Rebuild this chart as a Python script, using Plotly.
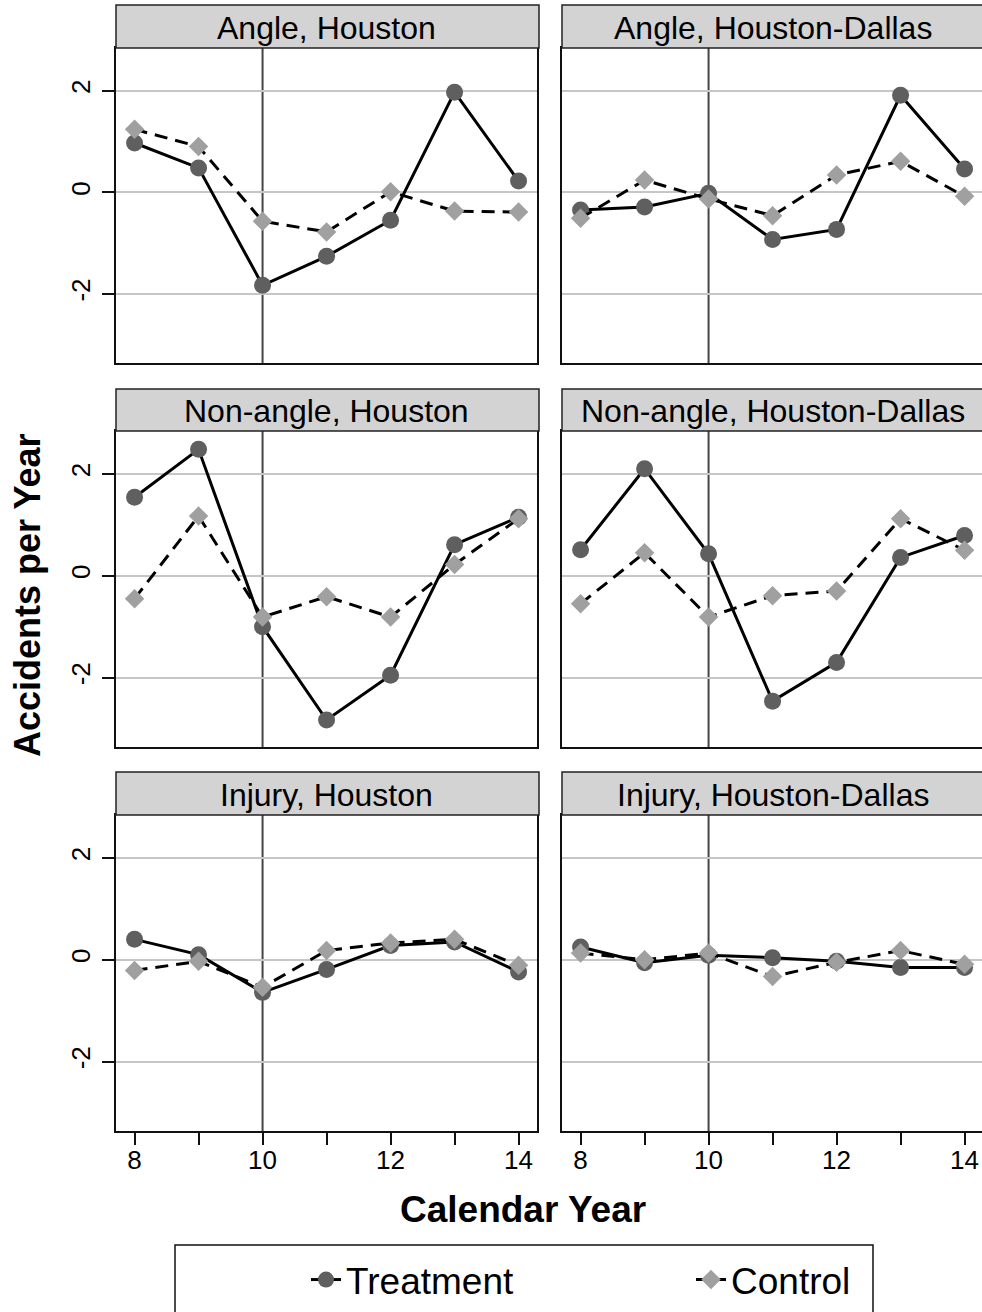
import plotly.graph_objects as go

# ---------------- data ----------------
years = [8, 9, 10, 11, 12, 13, 14]
policy_year = 10
panel_titles = ["Angle, Houston", "Angle, Houston-Dallas",
                "Non-angle, Houston", "Non-angle, Houston-Dallas",
                "Injury, Houston", "Injury, Houston-Dallas"]
series_names = ["Treatment", "Control"]
y_tick_vals = [-2, 0, 2]
x_tick_vals = [8, 10, 12, 14]

angle_hou_treat = [0.97, 0.48, -1.83, -1.26, -0.55, 1.97, 0.22]
angle_hou_ctrl = [1.24, 0.90, -0.57, -0.78, 0.01, -0.37, -0.39]
angle_hd_treat = [-0.35, -0.29, -0.02, -0.93, -0.73, 1.91, 0.46]
angle_hd_ctrl = [-0.51, 0.24, -0.13, -0.46, 0.34, 0.61, -0.08]
nonangle_hou_treat = [1.54, 2.48, -1.00, -2.83, -1.95, 0.61, 1.15]
nonangle_hou_ctrl = [-0.45, 1.17, -0.81, -0.41, -0.81, 0.22, 1.12]
nonangle_hd_treat = [0.51, 2.10, 0.43, -2.46, -1.70, 0.36, 0.79]
nonangle_hd_ctrl = [-0.55, 0.45, -0.81, -0.39, -0.30, 1.12, 0.50]
injury_hou_treat = [0.40, 0.10, -0.64, -0.19, 0.28, 0.35, -0.24]
injury_hou_ctrl = [-0.21, -0.03, -0.54, 0.18, 0.33, 0.40, -0.11]
injury_hd_treat = [0.25, -0.06, 0.09, 0.04, -0.03, -0.15, -0.15]
injury_hd_ctrl = [0.13, 0.00, 0.13, -0.33, -0.05, 0.18, -0.09]

treat_series = [angle_hou_treat, angle_hd_treat, nonangle_hou_treat,
                nonangle_hd_treat, injury_hou_treat, injury_hd_treat]
ctrl_series = [angle_hou_ctrl, angle_hd_ctrl, nonangle_hou_ctrl,
               nonangle_hd_ctrl, injury_hou_ctrl, injury_hd_ctrl]

# ---------------- layout geometry (pixels) ----------------
W, H = 982, 1312
FONT = "Liberation Sans, Arial, Helvetica, sans-serif"
col_px = [(116, 537), (562, 982)]
row_plot_px = [(48, 363), (431, 747), (815, 1131)]
row_head_px = [(5, 48), (389, 431), (772, 815)]
y_range = [-3.36, 2.84]
px_per_year = 64.0


def fx(px):
    return px / W


def fy(py):
    return 1 - py / H


fig = go.Figure()
shapes = []
annotations = []

for i in range(6):
    r, c = divmod(i, 2)
    ax = "" if i == 0 else str(i + 1)
    x0p, x1p = col_px[c]
    yt, yb = row_plot_px[r]
    x_lo = 7.71
    x_hi = x_lo + (x1p - x0p) / px_per_year

    fig.add_trace(go.Scatter(
        x=years, y=treat_series[i], mode="lines+markers",
        name=series_names[0], legendgroup="t", showlegend=(i == 0),
        legend="legend",
        line=dict(color="black", width=3),
        marker=dict(symbol="circle", size=17, color="#5f5f5f", line=dict(width=0)),
        xaxis="x" + ax, yaxis="y" + ax))
    fig.add_trace(go.Scatter(
        x=years, y=ctrl_series[i], mode="lines+markers",
        name=series_names[1], legendgroup="c", showlegend=(i == 0),
        legend="legend2",
        line=dict(color="black", width=3, dash="13px,8px"),
        marker=dict(symbol="diamond", size=15, color="#a0a0a0", line=dict(width=0)),
        xaxis="x" + ax, yaxis="y" + ax))

    bottom = (r == 2)
    xa = dict(domain=[fx(x0p), fx(x1p)], range=[x_lo, x_hi], anchor="y" + ax,
              showgrid=False, zeroline=False, showline=True, mirror=True,
              linecolor="#111", linewidth=2, fixedrange=True)
    if bottom:
        xa.update(tickmode="array", tickvals=x_tick_vals,
                  ticktext=[str(v) for v in x_tick_vals],
                  ticks="outside", ticklen=12, tickwidth=2, tickcolor="#111",
                  showticklabels=True, ticklabelstandoff=-7,
                  tickfont=dict(family=FONT, size=26, color="black"),
                  minor=dict(tickmode="array", tickvals=years, ticks="outside",
                             ticklen=12, tickwidth=2, tickcolor="#111", showgrid=False))
    else:
        xa.update(ticks="", showticklabels=False)

    ya = dict(domain=[fy(yb), fy(yt)], range=y_range, anchor="x" + ax,
              tickmode="array", tickvals=y_tick_vals,
              showgrid=True, gridcolor="#c6c6c6", gridwidth=2,
              zeroline=False, showline=True, mirror=True,
              linecolor="#111", linewidth=2, fixedrange=True)
    if c == 0:
        ya.update(ticks="outside", ticklen=12, tickwidth=2, tickcolor="#111",
                  showticklabels=True, tickangle=-90, ticklabelstandoff=2,
                  ticktext=[str(v) for v in y_tick_vals],
                  tickfont=dict(family=FONT, size=26, color="black"))
    else:
        ya.update(ticks="", showticklabels=False)

    fig.layout["xaxis" + ax] = xa
    fig.layout["yaxis" + ax] = ya

    # vertical reference line at policy year
    shapes.append(dict(type="line", xref="x" + ax, yref="y" + ax + " domain",
                       x0=policy_year, x1=policy_year, y0=0, y1=1,
                       line=dict(color="#444", width=2), layer="below"))

    # header strip
    ht, hb = row_head_px[r]
    shapes.append(dict(type="rect", xref="paper", yref="paper",
                       x0=fx(x0p), x1=fx(x1p + 2), y0=fy(hb), y1=fy(ht),
                       fillcolor="#d3d3d3", line=dict(color="#222", width=1.5),
                       layer="above"))
    annotations.append(dict(text=panel_titles[i], xref="paper", yref="paper",
                            x=fx((x0p + x1p + (2 if c == 1 else 0)) / 2),
                            y=fy((ht + hb) / 2 + 1),
                            xanchor="center", yanchor="middle", showarrow=False,
                            font=dict(family=FONT, size=32, color="black")))

# axis titles
annotations.append(dict(text="<b>Calendar Year</b>", xref="paper", yref="paper",
                        x=fx(523), y=fy(1209), xanchor="center", yanchor="middle",
                        showarrow=False, font=dict(family=FONT, size=37, color="black")))
annotations.append(dict(text="<b>Accidents per Year</b>", xref="paper", yref="paper",
                        x=fx(27), y=fy(595), xanchor="center", yanchor="middle",
                        textangle=-90, showarrow=False,
                        font=dict(family=FONT, size=36, color="black")))

# legend frame
shapes.append(dict(type="rect", xref="paper", yref="paper",
                   x0=fx(175), x1=fx(873), y0=fy(1330), y1=fy(1245),
                   line=dict(color="#111", width=1.5), fillcolor="rgba(0,0,0,0)"))

legend_common = dict(orientation="h", xanchor="left", yanchor="middle",
                     y=fy(1280),
                     font=dict(family=FONT, size=37, color="black"),
                     bgcolor="rgba(0,0,0,0)", borderwidth=0,
                     itemsizing="trace")

fig.update_layout(
    width=W, height=H,
    margin=dict(l=0, r=0, t=0, b=0, autoexpand=False),
    paper_bgcolor="white", plot_bgcolor="white",
    shapes=shapes, annotations=annotations,
    showlegend=True,
    legend=dict(x=fx(306), **legend_common),
    legend2=dict(x=fx(691), **legend_common),
    font=dict(family=FONT),
)

fig.write_html("out.html",
               config={"displayModeBar": False, "staticPlot": False},
               post_script="document.body.style.margin='0px';"
                           "document.body.style.overflow='hidden';")
